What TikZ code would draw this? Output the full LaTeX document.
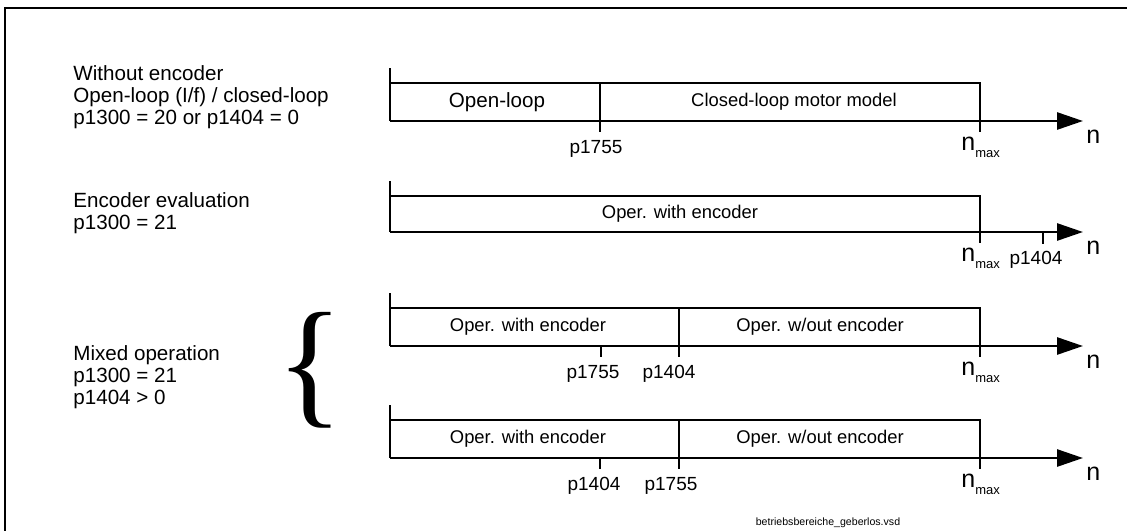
\documentclass[tikz,border=0pt]{standalone}
\usepackage{fontspec}
\setmainfont{Liberation Sans}
\newfontfamily\bracefont{Liberation Serif}
\usepackage{tikz}
\usetikzlibrary{arrows.meta,calc,positioning}
\newcommand{\nmax}{n\raisebox{-0.55ex}{\fontsize{6.5}{7}\selectfont max}}

\begin{document}
\begin{tikzpicture}[x=0.5pt,y=-0.5pt,
  ax/.style={line width=1.35pt,-{Triangle[length=13pt,width=8.5pt]}},
  bx/.style={line width=0.7pt},
  lbl/.style={anchor=west,align=left,inner sep=0pt,font=\fontsize{10.3}{11}\selectfont},
  txt/.style={inner sep=0pt,font=\fontsize{9.2}{10}\selectfont},
  tl/.style={anchor=base,inner sep=0pt,font=\fontsize{9.5}{10}\selectfont},
  nl/.style={anchor=base west,inner sep=0pt,font=\fontsize{12.5}{12.5}\selectfont}
]
\useasboundingbox (0,0) rectangle (1127,530);
\draw[line width=1.1pt] (5,560) -- (5,8) -- (1160,8);

% left hand labels
\node[lbl] (noenc) at (73,97) {Without encoder\\Open-loop (I/f) / closed-loop\\p1300 = 20 or p1404 = 0};
\node[lbl] (enc) at (73,213) {Encoder evaluation\\p1300 = 21};
\node[lbl] (mixed) at (73,377) {Mixed operation\\p1300 = 21\\p1404 > 0};
\node[inner sep=0pt,font=\fontsize{70}{70}\selectfont\bracefont] (brace) at (310,370) {\{};

% row 1
\coordinate (o1) at (390,121);
\coordinate (e1) at (1083,121);
\draw[ax] (o1) -- (e1);
\draw[bx] (390,68) -- (o1);
\draw[bx] (390,83) -- (980,83) -- (980,132);
\draw[bx] (600,83) -- (600,132);
\node[txt,font=\fontsize{10.3}{11}\selectfont] (ol) at (497,102) {Open-loop};
\node[txt] (cl) at (794,102) {Closed-loop motor model};
\node[tl] (p1) at (596,153) {p1755};
\node[nl] (nm1) at (961,150) {\nmax};
\node[nl] (n1) at (1086,143) {n};

% row 2
\coordinate (o2) at (390,232);
\coordinate (e2) at (1083,232);
\draw[ax] (o2) -- (e2);
\draw[bx] (390,181) -- (o2);
\draw[bx] (390,196) -- (980,196) -- (980,243);
\draw[bx] (1043,232) -- (1043,244);
\node[txt] (we2) at (680,214) {Oper. with encoder};
\node[tl] (p2) at (1036,264) {p1404};
\node[nl] (nm2) at (961,261) {\nmax};
\node[nl] (n2) at (1086,254) {n};

% row 3
\coordinate (o3) at (390,346);
\coordinate (e3) at (1083,346);
\draw[ax] (o3) -- (e3);
\draw[bx] (390,293) -- (o3);
\draw[bx] (390,308) -- (980,308) -- (980,357);
\draw[bx] (679,308) -- (679,357);
\draw[bx] (601,346) -- (601,357);
\node[txt] (we3) at (528,327) {Oper. with encoder};
\node[txt] (wo3) at (820,327) {Oper. w/out encoder};
\node[tl] (p3a) at (593,378) {p1755};
\node[tl] (p3b) at (669,378) {p1404};
\node[nl] (nm3) at (961,375) {\nmax};
\node[nl] (n3) at (1086,368) {n};

% row 4
\coordinate (o4) at (390,458);
\coordinate (e4) at (1083,458);
\draw[ax] (o4) -- (e4);
\draw[bx] (390,405) -- (o4);
\draw[bx] (390,420) -- (980,420) -- (980,469);
\draw[bx] (679,420) -- (679,469);
\draw[bx] (600,458) -- (600,469);
\node[txt] (we4) at (528,439) {Oper. with encoder};
\node[txt] (wo4) at (820,439) {Oper. w/out encoder};
\node[tl] (p4a) at (594,490) {p1404};
\node[tl] (p4b) at (671,490) {p1755};
\node[nl] (nm4) at (961,487) {\nmax};
\node[nl] (n4) at (1086,480) {n};

\node[inner sep=0pt,font=\fontsize{5.3}{6}\selectfont] (file) at (828,523) {betriebsbereiche\_geberlos.vsd};
\end{tikzpicture}
\end{document}
